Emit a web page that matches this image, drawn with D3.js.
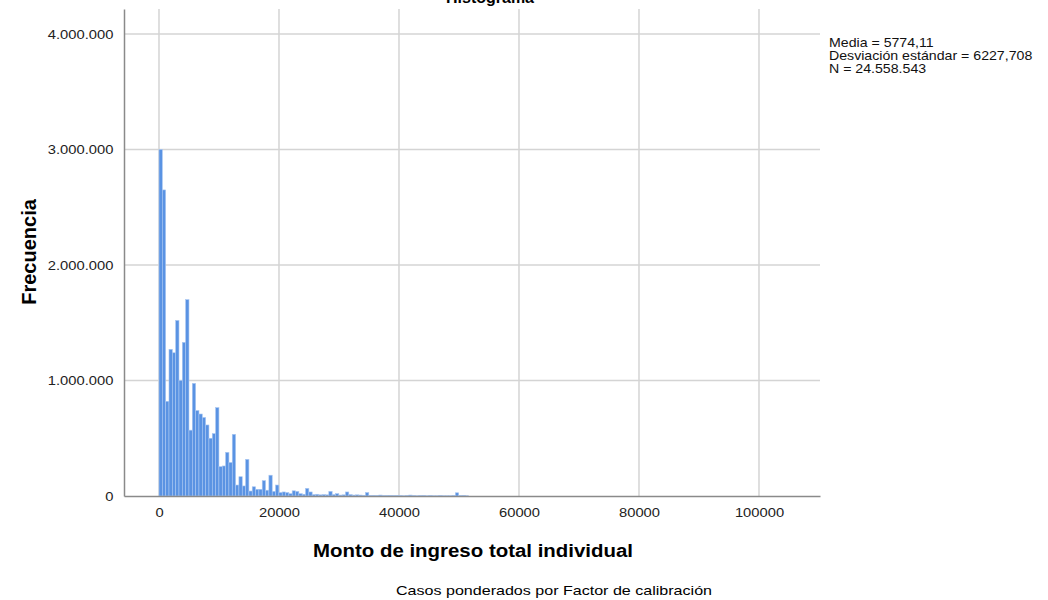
<!DOCTYPE html>
<html lang="en">
  <head>
    <meta charset="UTF-8" />
    <title>Histograma</title>
    <script src="https://cdn.jsdelivr.net/npm/d3@7"></script>
    <style>
      body {
        margin: 0;
        background: #ffffff;
      }
      text {
        font-family: "Liberation Sans", Arial, sans-serif;
      }
    </style>
  </head>
  <body>
    <svg id="hist" width="1048" height="600"></svg>
    <script>
      // bin width of the histogram (income units)
      let binWidth = 555;
      // frequency per bin, starting at 0
      let frequencies = [
        3000000, 2650000, 820000, 1270000, 1240000, 1520000, 1000000, 1330000,
        1700000, 570000, 975000, 740000, 710000, 680000, 615000, 500000, 540000,
        765000, 254000, 260000, 378000, 290000, 534000, 95000, 167000, 87000,
        317000, 43000, 80000, 58000, 58000, 133000, 50000, 180000, 40000, 95000,
        30000, 35000, 30000, 20000, 45000, 40000, 20000, 15000, 66000, 35000,
        12000, 15000, 10000, 12000, 10000, 40000, 12000, 20000, 8000, 10000,
        35000, 12000, 8000, 10000, 8000, 6000, 30000, 5000, 6000, 4000, 8000,
        3000, 4000, 5000, 3000, 4000, 3000, 2000, 3000, 8000, 3000, 2000, 3000,
        5000, 2000, 3000, 2000, 2000, 3000, 2000, 2000, 2000, 3000, 28000, 4000,
        6000, 2000
      ];
      let xTicks = [0, 20000, 40000, 60000, 80000, 100000];
      let yTicks = [0, 1000000, 2000000, 3000000, 4000000];
      let yTickLabels = ["0", "1.000.000", "2.000.000", "3.000.000", "4.000.000"];
      let statsLines = [
        "Media = 5774,11",
        "Desviación estándar = 6227,708",
        "N = 24.558.543"
      ];

      let svg = d3.select("#hist");

      let plotLeft = 124,
        plotRight = 820,
        plotTop = 9,
        plotBottom = 496;
      // the original output is a little wider than tall
      let stretch = 1.18;

      let x = d3
        .scaleLinear()
        .domain([-5833, 110167])
        .range([plotLeft, plotRight]);
      let y = d3
        .scaleLinear()
        .domain([0, 4000000])
        .range([plotBottom, 34]);

      // grid lines
      svg
        .append("g")
        .selectAll("line")
        .data(yTicks.slice(1))
        .join("line")
        .attr("x1", plotLeft)
        .attr("x2", plotRight)
        .attr("y1", (d) => y(d))
        .attr("y2", (d) => y(d))
        .attr("stroke", "#d4d4d4")
        .attr("stroke-width", 1.5);
      svg
        .append("g")
        .selectAll("line")
        .data(xTicks)
        .join("line")
        .attr("x1", (d) => x(d))
        .attr("x2", (d) => x(d))
        .attr("y1", plotTop)
        .attr("y2", plotBottom)
        .attr("stroke", "#d4d4d4")
        .attr("stroke-width", 1.5);

      // bars
      svg
        .append("g")
        .selectAll("rect")
        .data(frequencies)
        .join("rect")
        .attr("x", (d, i) => x(i * binWidth))
        .attr("width", (d, i) => x((i + 1) * binWidth) - x(i * binWidth))
        .attr("y", (d) => y(d))
        .attr("height", (d) => plotBottom - y(d))
        .attr("fill", "#5a93e3")
        .attr("stroke", "#a9c7f2")
        .attr("stroke-width", 0.6);

      // axes
      let xAxis = svg
        .append("g")
        .attr("transform", `translate(0,${plotBottom})`)
        .call(
          d3.axisBottom(x).tickValues(xTicks).tickSize(0).tickPadding(12).tickFormat(d3.format("d"))
        );
      xAxis.select(".domain").attr("stroke", "#8a8a8a").attr("stroke-width", 1.5);
      xAxis
        .selectAll("text")
        .attr("font-size", 12.5)
        .attr("fill", "#222")
        .attr("transform", `scale(${stretch},1)`);

      let yAxis = svg
        .append("g")
        .attr("transform", `translate(${plotLeft},0)`)
        .call(
          d3
            .axisLeft(y.copy().domain([0, y.invert(plotTop)]).range([plotBottom, plotTop]))
            .tickValues(yTicks)
            .tickSize(0)
            .tickPadding(9)
            .tickFormat((d, i) => yTickLabels[i])
        );
      yAxis.select(".domain").attr("stroke", "#8a8a8a").attr("stroke-width", 1.5);
      yAxis
        .selectAll("text")
        .attr("font-size", 12.5)
        .attr("fill", "#222")
        .attr("transform", `scale(${stretch},1)`);

      // titles
      svg
        .append("text")
        .attr("x", 490)
        .attr("y", 3)
        .attr("text-anchor", "middle")
        .attr("font-size", 16)
        .attr("font-weight", "bold")
        .text("Histograma");

      svg
        .append("text")
        .attr("transform", "translate(36,252) rotate(-90)")
        .attr("text-anchor", "middle")
        .attr("font-size", 20)
        .attr("font-weight", "bold")
        .text("Frecuencia");

      svg
        .append("text")
        .attr("x", 473)
        .attr("y", 557)
        .attr("text-anchor", "middle")
        .attr("font-size", 18)
        .attr("font-weight", "bold")
        .attr("textLength", 320)
        .attr("lengthAdjust", "spacingAndGlyphs")
        .text("Monto de ingreso total individual");

      svg
        .append("text")
        .attr("x", 554)
        .attr("y", 595)
        .attr("text-anchor", "middle")
        .attr("font-size", 13)
        .attr("textLength", 316)
        .attr("lengthAdjust", "spacingAndGlyphs")
        .text("Casos ponderados por Factor de calibración");

      // stats box
      svg
        .append("g")
        .attr("transform", `translate(829,0) scale(${stretch},1)`)
        .selectAll("text")
        .data(statsLines)
        .join("text")
        .attr("x", 0)
        .attr("y", (d, i) => 47 + i * 13)
        .attr("font-size", 12)
        .attr("fill", "#111")
        .text((d) => d);
    </script>
  </body>
</html>
